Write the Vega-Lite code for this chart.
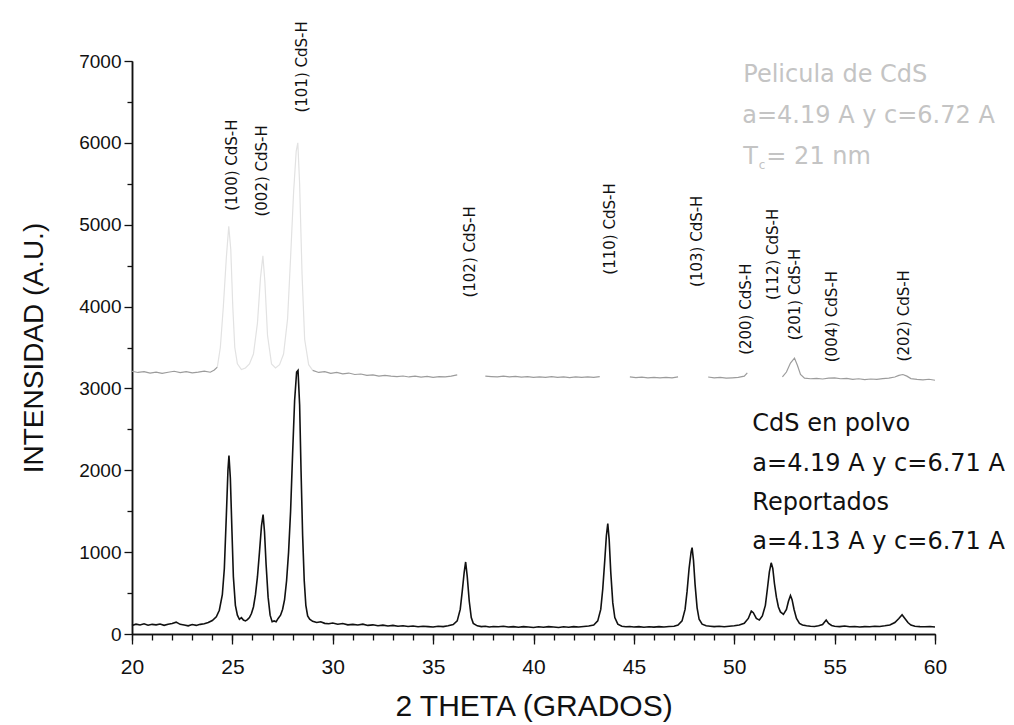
{
  "$schema": "https://vega.github.io/schema/vega-lite/v6.json",
  "autosize": {"type": "none"},
  "padding": {"left": 132, "top": 61, "right": 79, "bottom": 91},
  "width": 803,
  "height": 573,
  "background": "white",
  "config": {
    "view": {"stroke": null},
    "axis": {"grid": false, "domainColor": "#111", "tickColor": "#111", "labelColor": "#111", "titleColor": "#111", "labelFont": "Liberation Sans", "titleFont": "Liberation Sans", "titleFontWeight": "normal", "domainWidth": 1.5, "tickWidth": 1.3}
  },
  "datasets": {
    "powder": [
      {"theta": 20.0, "intensity": 105}, {"theta": 20.2, "intensity": 120}, {"theta": 20.4, "intensity": 110}, {"theta": 20.6, "intensity": 125}, {"theta": 20.8, "intensity": 108}, {"theta": 21.0, "intensity": 118}, {"theta": 21.2, "intensity": 112}, {"theta": 21.4, "intensity": 122}, {"theta": 21.6, "intensity": 106}, {"theta": 21.8, "intensity": 120}, {"theta": 22.0, "intensity": 128}, {"theta": 22.2, "intensity": 145}, {"theta": 22.4, "intensity": 118}, {"theta": 22.6, "intensity": 110}, {"theta": 22.8, "intensity": 100}, {"theta": 23.0, "intensity": 115}, {"theta": 23.2, "intensity": 105}, {"theta": 23.4, "intensity": 118}, {"theta": 23.6, "intensity": 125}, {"theta": 23.8, "intensity": 140}, {"theta": 24.0, "intensity": 165}, {"theta": 24.2, "intensity": 210}, {"theta": 24.35, "intensity": 290}, {"theta": 24.5, "intensity": 480}, {"theta": 24.6, "intensity": 800}, {"theta": 24.7, "intensity": 1450}, {"theta": 24.78, "intensity": 2000}, {"theta": 24.83, "intensity": 2180}, {"theta": 24.9, "intensity": 1900}, {"theta": 24.98, "intensity": 1250}, {"theta": 25.05, "intensity": 700}, {"theta": 25.15, "intensity": 350}, {"theta": 25.25, "intensity": 230}, {"theta": 25.35, "intensity": 180}, {"theta": 25.45, "intensity": 200}, {"theta": 25.55, "intensity": 170}, {"theta": 25.65, "intensity": 160}, {"theta": 25.75, "intensity": 175}, {"theta": 25.85, "intensity": 200}, {"theta": 25.95, "intensity": 250}, {"theta": 26.05, "intensity": 330}, {"theta": 26.15, "intensity": 480}, {"theta": 26.25, "intensity": 700}, {"theta": 26.35, "intensity": 1000}, {"theta": 26.45, "intensity": 1320}, {"theta": 26.53, "intensity": 1460}, {"theta": 26.6, "intensity": 1250}, {"theta": 26.68, "intensity": 850}, {"theta": 26.78, "intensity": 450}, {"theta": 26.88, "intensity": 230}, {"theta": 26.98, "intensity": 150}, {"theta": 27.08, "intensity": 160}, {"theta": 27.18, "intensity": 150}, {"theta": 27.28, "intensity": 190}, {"theta": 27.4, "intensity": 230}, {"theta": 27.5, "intensity": 300}, {"theta": 27.6, "intensity": 420}, {"theta": 27.7, "intensity": 650}, {"theta": 27.8, "intensity": 1000}, {"theta": 27.9, "intensity": 1500}, {"theta": 28.0, "intensity": 2200}, {"theta": 28.1, "intensity": 2850}, {"theta": 28.2, "intensity": 3200}, {"theta": 28.27, "intensity": 3220}, {"theta": 28.35, "intensity": 2800}, {"theta": 28.42, "intensity": 2000}, {"theta": 28.5, "intensity": 1200}, {"theta": 28.58, "intensity": 650}, {"theta": 28.66, "intensity": 350}, {"theta": 28.75, "intensity": 220}, {"theta": 28.85, "intensity": 180}, {"theta": 29.0, "intensity": 155}, {"theta": 29.2, "intensity": 140}, {"theta": 29.4, "intensity": 150}, {"theta": 29.6, "intensity": 130}, {"theta": 29.8, "intensity": 125}, {"theta": 30.0, "intensity": 135}, {"theta": 30.25, "intensity": 120}, {"theta": 30.5, "intensity": 128}, {"theta": 30.75, "intensity": 112}, {"theta": 31.0, "intensity": 118}, {"theta": 31.25, "intensity": 110}, {"theta": 31.5, "intensity": 120}, {"theta": 31.75, "intensity": 105}, {"theta": 32.0, "intensity": 112}, {"theta": 32.25, "intensity": 100}, {"theta": 32.5, "intensity": 108}, {"theta": 32.75, "intensity": 98}, {"theta": 33.0, "intensity": 105}, {"theta": 33.25, "intensity": 95}, {"theta": 33.5, "intensity": 100}, {"theta": 33.75, "intensity": 92}, {"theta": 34.0, "intensity": 98}, {"theta": 34.25, "intensity": 88}, {"theta": 34.5, "intensity": 95}, {"theta": 34.75, "intensity": 90}, {"theta": 35.0, "intensity": 85}, {"theta": 35.25, "intensity": 95}, {"theta": 35.5, "intensity": 90}, {"theta": 35.75, "intensity": 100}, {"theta": 36.0, "intensity": 115}, {"theta": 36.2, "intensity": 160}, {"theta": 36.35, "intensity": 300}, {"theta": 36.45, "intensity": 520}, {"theta": 36.55, "intensity": 760}, {"theta": 36.62, "intensity": 880}, {"theta": 36.7, "intensity": 700}, {"theta": 36.8, "intensity": 400}, {"theta": 36.9, "intensity": 200}, {"theta": 37.0, "intensity": 130}, {"theta": 37.2, "intensity": 100}, {"theta": 37.4, "intensity": 90}, {"theta": 37.6, "intensity": 95}, {"theta": 37.8, "intensity": 85}, {"theta": 38.0, "intensity": 92}, {"theta": 38.25, "intensity": 88}, {"theta": 38.5, "intensity": 95}, {"theta": 38.75, "intensity": 85}, {"theta": 39.0, "intensity": 90}, {"theta": 39.25, "intensity": 82}, {"theta": 39.5, "intensity": 90}, {"theta": 39.75, "intensity": 85}, {"theta": 40.0, "intensity": 80}, {"theta": 40.25, "intensity": 88}, {"theta": 40.5, "intensity": 82}, {"theta": 40.75, "intensity": 90}, {"theta": 41.0, "intensity": 85}, {"theta": 41.25, "intensity": 80}, {"theta": 41.5, "intensity": 88}, {"theta": 41.75, "intensity": 82}, {"theta": 42.0, "intensity": 90}, {"theta": 42.25, "intensity": 85}, {"theta": 42.5, "intensity": 92}, {"theta": 42.75, "intensity": 98}, {"theta": 43.0, "intensity": 110}, {"theta": 43.2, "intensity": 160}, {"theta": 43.35, "intensity": 300}, {"theta": 43.45, "intensity": 550}, {"theta": 43.55, "intensity": 900}, {"theta": 43.63, "intensity": 1200}, {"theta": 43.7, "intensity": 1350}, {"theta": 43.77, "intensity": 1150}, {"theta": 43.85, "intensity": 750}, {"theta": 43.95, "intensity": 380}, {"theta": 44.05, "intensity": 200}, {"theta": 44.2, "intensity": 120}, {"theta": 44.4, "intensity": 95}, {"theta": 44.6, "intensity": 88}, {"theta": 44.8, "intensity": 92}, {"theta": 45.0, "intensity": 85}, {"theta": 45.25, "intensity": 90}, {"theta": 45.5, "intensity": 82}, {"theta": 45.75, "intensity": 88}, {"theta": 46.0, "intensity": 84}, {"theta": 46.25, "intensity": 90}, {"theta": 46.5, "intensity": 86}, {"theta": 46.75, "intensity": 92}, {"theta": 47.0, "intensity": 95}, {"theta": 47.2, "intensity": 110}, {"theta": 47.4, "intensity": 160}, {"theta": 47.55, "intensity": 300}, {"theta": 47.65, "intensity": 520}, {"theta": 47.75, "intensity": 800}, {"theta": 47.85, "intensity": 1000}, {"theta": 47.9, "intensity": 1055}, {"theta": 47.97, "intensity": 900}, {"theta": 48.05, "intensity": 600}, {"theta": 48.15, "intensity": 320}, {"theta": 48.25, "intensity": 180}, {"theta": 48.4, "intensity": 120}, {"theta": 48.6, "intensity": 100}, {"theta": 48.8, "intensity": 95}, {"theta": 49.0, "intensity": 90}, {"theta": 49.25, "intensity": 95}, {"theta": 49.5, "intensity": 88}, {"theta": 49.75, "intensity": 95}, {"theta": 50.0, "intensity": 100}, {"theta": 50.25, "intensity": 110}, {"theta": 50.5, "intensity": 130}, {"theta": 50.7, "intensity": 190}, {"theta": 50.85, "intensity": 280}, {"theta": 50.95, "intensity": 260}, {"theta": 51.1, "intensity": 190}, {"theta": 51.25, "intensity": 170}, {"theta": 51.4, "intensity": 220}, {"theta": 51.55, "intensity": 350}, {"theta": 51.65, "intensity": 550}, {"theta": 51.75, "intensity": 760}, {"theta": 51.84, "intensity": 870}, {"theta": 51.92, "intensity": 800}, {"theta": 52.0, "intensity": 620}, {"theta": 52.1, "intensity": 450}, {"theta": 52.2, "intensity": 330}, {"theta": 52.3, "intensity": 270}, {"theta": 52.45, "intensity": 240}, {"theta": 52.6, "intensity": 300}, {"theta": 52.7, "intensity": 400}, {"theta": 52.8, "intensity": 470}, {"theta": 52.88, "intensity": 420}, {"theta": 52.98, "intensity": 300}, {"theta": 53.1, "intensity": 190}, {"theta": 53.25, "intensity": 130}, {"theta": 53.4, "intensity": 110}, {"theta": 53.6, "intensity": 100}, {"theta": 53.8, "intensity": 95}, {"theta": 54.0, "intensity": 92}, {"theta": 54.2, "intensity": 100}, {"theta": 54.4, "intensity": 115}, {"theta": 54.58, "intensity": 170}, {"theta": 54.7, "intensity": 130}, {"theta": 54.85, "intensity": 105}, {"theta": 55.0, "intensity": 95}, {"theta": 55.25, "intensity": 90}, {"theta": 55.5, "intensity": 98}, {"theta": 55.75, "intensity": 88}, {"theta": 56.0, "intensity": 92}, {"theta": 56.25, "intensity": 85}, {"theta": 56.5, "intensity": 90}, {"theta": 56.75, "intensity": 88}, {"theta": 57.0, "intensity": 95}, {"theta": 57.25, "intensity": 92}, {"theta": 57.5, "intensity": 100}, {"theta": 57.75, "intensity": 110}, {"theta": 58.0, "intensity": 140}, {"theta": 58.2, "intensity": 190}, {"theta": 58.36, "intensity": 235}, {"theta": 58.5, "intensity": 190}, {"theta": 58.65, "intensity": 140}, {"theta": 58.8, "intensity": 110}, {"theta": 59.0, "intensity": 95}, {"theta": 59.25, "intensity": 90}, {"theta": 59.5, "intensity": 88}, {"theta": 59.75, "intensity": 92}, {"theta": 60.0, "intensity": 85}
    ],
    "film": [
      {"seg": "a", "part": "base", "theta": 20.0, "intensity": 3210}, {"seg": "a", "part": "base", "theta": 20.3, "intensity": 3195}, {"seg": "a", "part": "base", "theta": 20.6, "intensity": 3205}, {"seg": "a", "part": "base", "theta": 20.9, "intensity": 3188}, {"seg": "a", "part": "base", "theta": 21.2, "intensity": 3200}, {"seg": "a", "part": "base", "theta": 21.5, "intensity": 3185}, {"seg": "a", "part": "base", "theta": 21.8, "intensity": 3198}, {"seg": "a", "part": "base", "theta": 22.1, "intensity": 3210}, {"seg": "a", "part": "base", "theta": 22.4, "intensity": 3194}, {"seg": "a", "part": "base", "theta": 22.7, "intensity": 3205}, {"seg": "a", "part": "base", "theta": 23.0, "intensity": 3190}, {"seg": "a", "part": "base", "theta": 23.3, "intensity": 3200}, {"seg": "a", "part": "base", "theta": 23.6, "intensity": 3212}, {"seg": "a", "part": "base", "theta": 23.9, "intensity": 3198}, {"seg": "a", "part": "base", "theta": 24.1, "intensity": 3225}, {"seg": "a", "part": "base", "theta": 24.25, "intensity": 3260},
      {"seg": "b", "part": "peak", "theta": 24.25, "intensity": 3260}, {"seg": "b", "part": "peak", "theta": 24.4, "intensity": 3500}, {"seg": "b", "part": "peak", "theta": 24.55, "intensity": 4000}, {"seg": "b", "part": "peak", "theta": 24.7, "intensity": 4600}, {"seg": "b", "part": "peak", "theta": 24.82, "intensity": 4980}, {"seg": "b", "part": "peak", "theta": 24.92, "intensity": 4700}, {"seg": "b", "part": "peak", "theta": 25.02, "intensity": 4000}, {"seg": "b", "part": "peak", "theta": 25.12, "intensity": 3500}, {"seg": "b", "part": "peak", "theta": 25.25, "intensity": 3300}, {"seg": "b", "part": "peak", "theta": 25.45, "intensity": 3230}, {"seg": "b", "part": "peak", "theta": 25.65, "intensity": 3250}, {"seg": "b", "part": "peak", "theta": 25.85, "intensity": 3300}, {"seg": "b", "part": "peak", "theta": 26.05, "intensity": 3420}, {"seg": "b", "part": "peak", "theta": 26.25, "intensity": 3800}, {"seg": "b", "part": "peak", "theta": 26.4, "intensity": 4350}, {"seg": "b", "part": "peak", "theta": 26.52, "intensity": 4620}, {"seg": "b", "part": "peak", "theta": 26.62, "intensity": 4300}, {"seg": "b", "part": "peak", "theta": 26.75, "intensity": 3650}, {"seg": "b", "part": "peak", "theta": 26.95, "intensity": 3300}, {"seg": "b", "part": "peak", "theta": 27.15, "intensity": 3250}, {"seg": "b", "part": "peak", "theta": 27.35, "intensity": 3290}, {"seg": "b", "part": "peak", "theta": 27.55, "intensity": 3420}, {"seg": "b", "part": "peak", "theta": 27.75, "intensity": 3850}, {"seg": "b", "part": "peak", "theta": 27.9, "intensity": 4600}, {"seg": "b", "part": "peak", "theta": 28.05, "intensity": 5400}, {"seg": "b", "part": "peak", "theta": 28.18, "intensity": 5900}, {"seg": "b", "part": "peak", "theta": 28.26, "intensity": 6000}, {"seg": "b", "part": "peak", "theta": 28.35, "intensity": 5500}, {"seg": "b", "part": "peak", "theta": 28.47, "intensity": 4400}, {"seg": "b", "part": "peak", "theta": 28.6, "intensity": 3600}, {"seg": "b", "part": "peak", "theta": 28.8, "intensity": 3290}, {"seg": "b", "part": "peak", "theta": 29.0, "intensity": 3220},
      {"seg": "c", "part": "base", "theta": 29.0, "intensity": 3220}, {"seg": "c", "part": "base", "theta": 29.3, "intensity": 3195}, {"seg": "c", "part": "base", "theta": 29.6, "intensity": 3205}, {"seg": "c", "part": "base", "theta": 29.9, "intensity": 3185}, {"seg": "c", "part": "base", "theta": 30.2, "intensity": 3195}, {"seg": "c", "part": "base", "theta": 30.5, "intensity": 3178}, {"seg": "c", "part": "base", "theta": 30.8, "intensity": 3188}, {"seg": "c", "part": "base", "theta": 31.1, "intensity": 3170}, {"seg": "c", "part": "base", "theta": 31.4, "intensity": 3176}, {"seg": "c", "part": "base", "theta": 31.7, "intensity": 3160}, {"seg": "c", "part": "base", "theta": 32.0, "intensity": 3166}, {"seg": "c", "part": "base", "theta": 32.3, "intensity": 3150}, {"seg": "c", "part": "base", "theta": 32.6, "intensity": 3160}, {"seg": "c", "part": "base", "theta": 32.9, "intensity": 3150}, {"seg": "c", "part": "base", "theta": 33.2, "intensity": 3144}, {"seg": "c", "part": "base", "theta": 33.5, "intensity": 3152}, {"seg": "c", "part": "base", "theta": 33.8, "intensity": 3140}, {"seg": "c", "part": "base", "theta": 34.1, "intensity": 3150}, {"seg": "c", "part": "base", "theta": 34.4, "intensity": 3138}, {"seg": "c", "part": "base", "theta": 34.7, "intensity": 3146}, {"seg": "c", "part": "base", "theta": 35.0, "intensity": 3135}, {"seg": "c", "part": "base", "theta": 35.3, "intensity": 3145}, {"seg": "c", "part": "base", "theta": 35.6, "intensity": 3140}, {"seg": "c", "part": "base", "theta": 35.9, "intensity": 3150}, {"seg": "c", "part": "base", "theta": 36.2, "intensity": 3165},
      {"seg": "d", "part": "base", "theta": 37.6, "intensity": 3150}, {"seg": "d", "part": "base", "theta": 37.9, "intensity": 3145}, {"seg": "d", "part": "base", "theta": 38.2, "intensity": 3140}, {"seg": "d", "part": "base", "theta": 38.5, "intensity": 3150}, {"seg": "d", "part": "base", "theta": 38.8, "intensity": 3140}, {"seg": "d", "part": "base", "theta": 39.1, "intensity": 3146}, {"seg": "d", "part": "base", "theta": 39.4, "intensity": 3138}, {"seg": "d", "part": "base", "theta": 39.7, "intensity": 3144}, {"seg": "d", "part": "base", "theta": 40.0, "intensity": 3135}, {"seg": "d", "part": "base", "theta": 40.3, "intensity": 3142}, {"seg": "d", "part": "base", "theta": 40.6, "intensity": 3136}, {"seg": "d", "part": "base", "theta": 40.9, "intensity": 3144}, {"seg": "d", "part": "base", "theta": 41.2, "intensity": 3134}, {"seg": "d", "part": "base", "theta": 41.5, "intensity": 3140}, {"seg": "d", "part": "base", "theta": 41.8, "intensity": 3132}, {"seg": "d", "part": "base", "theta": 42.1, "intensity": 3140}, {"seg": "d", "part": "base", "theta": 42.4, "intensity": 3134}, {"seg": "d", "part": "base", "theta": 42.7, "intensity": 3140}, {"seg": "d", "part": "base", "theta": 43.0, "intensity": 3135}, {"seg": "d", "part": "base", "theta": 43.3, "intensity": 3145},
      {"seg": "e", "part": "base", "theta": 44.8, "intensity": 3140}, {"seg": "e", "part": "base", "theta": 45.1, "intensity": 3132}, {"seg": "e", "part": "base", "theta": 45.4, "intensity": 3138}, {"seg": "e", "part": "base", "theta": 45.7, "intensity": 3130}, {"seg": "e", "part": "base", "theta": 46.0, "intensity": 3136}, {"seg": "e", "part": "base", "theta": 46.3, "intensity": 3128}, {"seg": "e", "part": "base", "theta": 46.6, "intensity": 3135}, {"seg": "e", "part": "base", "theta": 46.9, "intensity": 3130}, {"seg": "e", "part": "base", "theta": 47.2, "intensity": 3140},
      {"seg": "f", "part": "base", "theta": 48.7, "intensity": 3140}, {"seg": "f", "part": "base", "theta": 49.0, "intensity": 3128}, {"seg": "f", "part": "base", "theta": 49.3, "intensity": 3135}, {"seg": "f", "part": "base", "theta": 49.6, "intensity": 3125}, {"seg": "f", "part": "base", "theta": 49.9, "intensity": 3130}, {"seg": "f", "part": "base", "theta": 50.2, "intensity": 3135}, {"seg": "f", "part": "base", "theta": 50.5, "intensity": 3150}, {"seg": "f", "part": "base", "theta": 50.65, "intensity": 3190},
      {"seg": "g", "part": "base", "theta": 52.4, "intensity": 3140}, {"seg": "g", "part": "base", "theta": 52.6, "intensity": 3200}, {"seg": "g", "part": "base", "theta": 52.8, "intensity": 3310}, {"seg": "g", "part": "base", "theta": 53.0, "intensity": 3370}, {"seg": "g", "part": "base", "theta": 53.15, "intensity": 3280}, {"seg": "g", "part": "base", "theta": 53.3, "intensity": 3170}, {"seg": "g", "part": "base", "theta": 53.5, "intensity": 3125}, {"seg": "g", "part": "base", "theta": 53.8, "intensity": 3118}, {"seg": "g", "part": "base", "theta": 54.1, "intensity": 3122}, {"seg": "g", "part": "base", "theta": 54.4, "intensity": 3115}, {"seg": "g", "part": "base", "theta": 54.7, "intensity": 3125}, {"seg": "g", "part": "base", "theta": 55.0, "intensity": 3130}, {"seg": "g", "part": "base", "theta": 55.3, "intensity": 3118}, {"seg": "g", "part": "base", "theta": 55.6, "intensity": 3122}, {"seg": "g", "part": "base", "theta": 55.9, "intensity": 3110}, {"seg": "g", "part": "base", "theta": 56.2, "intensity": 3118}, {"seg": "g", "part": "base", "theta": 56.5, "intensity": 3108}, {"seg": "g", "part": "base", "theta": 56.8, "intensity": 3115}, {"seg": "g", "part": "base", "theta": 57.1, "intensity": 3110}, {"seg": "g", "part": "base", "theta": 57.4, "intensity": 3120}, {"seg": "g", "part": "base", "theta": 57.7, "intensity": 3125}, {"seg": "g", "part": "base", "theta": 58.0, "intensity": 3140}, {"seg": "g", "part": "base", "theta": 58.2, "intensity": 3160}, {"seg": "g", "part": "base", "theta": 58.4, "intensity": 3170}, {"seg": "g", "part": "base", "theta": 58.6, "intensity": 3150}, {"seg": "g", "part": "base", "theta": 58.8, "intensity": 3120}, {"seg": "g", "part": "base", "theta": 59.1, "intensity": 3110}, {"seg": "g", "part": "base", "theta": 59.4, "intensity": 3105}, {"seg": "g", "part": "base", "theta": 59.7, "intensity": 3112}, {"seg": "g", "part": "base", "theta": 60.0, "intensity": 3100}
    ],
    "peaks": [
      {"label": "(100) CdS-H", "theta": 24.98, "intensity": 5170},
      {"label": "(002) CdS-H", "theta": 26.5, "intensity": 5100},
      {"label": "(101) CdS-H", "theta": 28.47, "intensity": 6370},
      {"label": "(102) CdS-H", "theta": 36.85, "intensity": 4110},
      {"label": "(110) CdS-H", "theta": 43.8, "intensity": 4390},
      {"label": "(103) CdS-H", "theta": 48.15, "intensity": 4240},
      {"label": "(200) CdS-H", "theta": 50.6, "intensity": 3410},
      {"label": "(112) CdS-H", "theta": 51.95, "intensity": 4080},
      {"label": "(201) CdS-H", "theta": 53.05, "intensity": 3590},
      {"label": "(004) CdS-H", "theta": 54.85, "intensity": 3320},
      {"label": "(202) CdS-H", "theta": 58.45, "intensity": 3330}
    ],
    "filmnote": [
      {"line": "Pelicula de CdS", "theta": 50.45, "intensity": 6829},
      {"line": "a=4.19 A y c=6.72 A", "theta": 50.4, "intensity": 6328},
      {"line": "T", "theta": 50.45, "intensity": 5827},
      {"line": "= 21 nm", "theta": 51.6, "intensity": 5827}
    ],
    "filmsub": [
      {"line": "c", "theta": 51.22, "intensity": 5730}
    ],
    "powdernote": [
      {"line": "CdS en polvo", "theta": 50.9, "intensity": 2565},
      {"line": "a=4.19 A y c=6.71 A", "theta": 50.9, "intensity": 2077},
      {"line": "Reportados", "theta": 50.9, "intensity": 1600},
      {"line": "a=4.13 A y c=6.71 A", "theta": 50.9, "intensity": 1124}
    ]
  },
  "resolve": {"axis": {"x": "independent", "y": "independent"}},
  "layer": [
    {
      "data": {"name": "powder"},
      "mark": {"type": "line", "color": "#111", "strokeWidth": 1.6},
      "encoding": {
        "x": {"field": "theta", "type": "quantitative", "scale": {"domain": [20, 60], "nice": false, "zero": false},
              "axis": {"orient": "bottom", "values": [20, 25, 30, 35, 40, 45, 50, 55, 60], "format": "d", "tickSize": 10, "labelFontSize": 21, "labelPadding": 12, "title": "2 THETA (GRADOS)", "titleFontSize": 30, "titlePadding": 14, "labelFlush": false}},
        "y": {"field": "intensity", "type": "quantitative", "scale": {"domain": [0, 7000], "nice": false},
              "axis": {"orient": "left", "values": [0, 1000, 2000, 3000, 4000, 5000, 6000, 7000], "format": "d", "tickSize": 8, "labelFontSize": 19, "labelPadding": 3, "title": "INTENSIDAD (A.U.)", "titleFontSize": 28, "titlePadding": 30, "labelFlush": false}}
      }
    },
    {
      "data": {"name": "film"},
      "mark": {"type": "line", "strokeWidth": 1.2},
      "encoding": {
        "x": {"field": "theta", "type": "quantitative",
              "axis": {"orient": "bottom", "values": [20,21,22,23,24,25,26,27,28,29,30,31,32,33,34,35,36,37,38,39,40,41,42,43,44,45,46,47,48,49,50,51,52,53,54,55,56,57,58,59,60], "tickSize": 6, "labels": false, "title": null}},
        "y": {"field": "intensity", "type": "quantitative",
              "axis": {"orient": "left", "values": [500, 1500, 2500, 3500, 4500, 5500, 6500], "tickSize": 5, "labels": false, "title": null}},
        "detail": {"field": "seg", "type": "nominal"},
        "color": {"field": "part", "type": "nominal", "scale": {"domain": ["base", "peak"], "range": ["#9c9c9c", "#e2e2e2"]}, "legend": null}
      }
    },
    {
      "data": {"name": "peaks"},
      "mark": {"type": "text", "angle": 270, "align": "left", "baseline": "middle", "font": "DejaVu Sans", "fontSize": 15, "color": "#111"},
      "encoding": {
        "x": {"field": "theta", "type": "quantitative", "axis": null},
        "y": {"field": "intensity", "type": "quantitative", "axis": null},
        "text": {"field": "label"}
      }
    },
    {
      "data": {"name": "filmnote"},
      "mark": {"type": "text", "align": "left", "baseline": "middle", "font": "DejaVu Sans", "fontSize": 24, "color": "#c4c4c4"},
      "encoding": {
        "x": {"field": "theta", "type": "quantitative", "axis": null},
        "y": {"field": "intensity", "type": "quantitative", "axis": null},
        "text": {"field": "line"}
      }
    },
    {
      "data": {"name": "filmsub"},
      "mark": {"type": "text", "align": "left", "baseline": "middle", "font": "DejaVu Sans", "fontSize": 12, "color": "#c4c4c4"},
      "encoding": {
        "x": {"field": "theta", "type": "quantitative", "axis": null},
        "y": {"field": "intensity", "type": "quantitative", "axis": null},
        "text": {"field": "line"}
      }
    },
    {
      "data": {"name": "powdernote"},
      "mark": {"type": "text", "align": "left", "baseline": "middle", "font": "DejaVu Sans", "fontSize": 24, "color": "#111"},
      "encoding": {
        "x": {"field": "theta", "type": "quantitative", "axis": null},
        "y": {"field": "intensity", "type": "quantitative", "axis": null},
        "text": {"field": "line"}
      }
    }
  ]
}
